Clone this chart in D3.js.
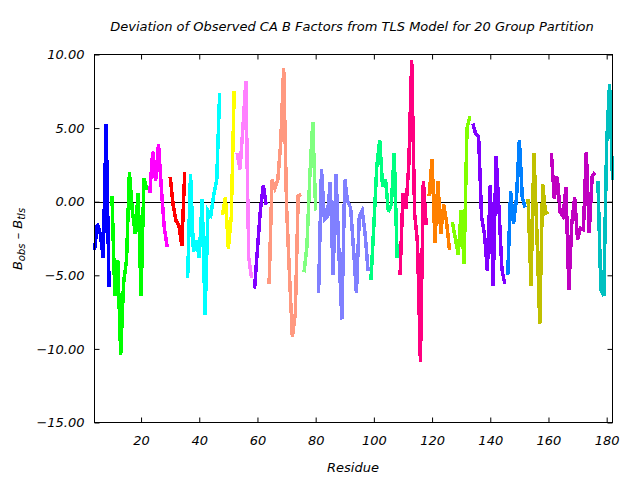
<!DOCTYPE html>
<html lang="en">

<head>
    <meta charset="UTF-8">
    <title>TLS deviation</title>
    <script src="https://cdn.jsdelivr.net/npm/d3@7"></script>
</head>

<body>
    <script>
        // first residue of each TLS group, its colour, and B_obs - B_tls per residue
        const groupStarts = [4, 10, 23, 30, 36, 48, 53, 59, 64, 76, 81, 99, 109, 119, 127, 134, 146, 153, 161, 177];
        const groupColors = ['#0000ff', '#00ff00', '#ff00ff', '#ff0000', '#00ffff', '#ffff00', '#ff80ff', '#8000ff',
            '#ff9980', '#80ff80', '#8080ff', '#00ff80', '#ff0080', '#ff8000', '#80ff00', '#8000ff',
            '#0080ff', '#c0c000', '#c000c0', '#00c0c0'];
        const deviations = [
            [-3.3, -1.5, -2.2, -3.8, 5.3, -5.8],
            [0.4, -6.4, -4.0, -10.4, -5.5, -4.0, 2.0, -0.6, -2.2, 0.6, -6.4, 1.6, 0.8],
            [0.6, 3.4, 1.4, 3.9, 0.8, -1.8, -3.1],
            [1.7, -0.2, -1.3, -1.6, -3.0, 2.0],
            [-5.2, 1.9, -3.4, -2.6, -3.8, 0.2, -7.7, -0.6, -0.9, 0.5, 1.5, 7.4],
            [-0.9, 0.3, -3.2, -1.0, 7.5],
            [3.3, 2.2, 5.0, 8.2, -3.8, -5.2],
            [-5.9, -3.2, -0.6, 1.1, -0.2],
            [-5.6, 1.5, 0.9, 1.5, 4.0, 9.1, -0.3, -5.0, -9.2, -7.6, 0.4, 0.5],
            [-4.8, -3.0, 1.8, 5.4, -0.6],
            [-6.2, 2.2, -1.2, -1.0, 1.3, -5.0, 1.9, -3.5, -8.0, 1.5, 0.0, -0.4, -3.2, -6.2, -1.0, -0.6, -2.2, -4.7],
            [-5.3, -1.6, 2.4, 4.2, 1.0, 1.5, -0.7, -0.2, 3.3, -3.8],
            [-5.0, 0.6, -0.5, 2.5, 9.6, -0.8, -2.8, -10.9, 1.4, -1.6],
            [0.4, 2.9, -2.8, 1.4, -2.2, -0.2, -1.4, -3.3],
            [-1.4, -2.5, -3.6, -0.6, -4.2, 5.0, 5.8],
            [5.3, 4.6, 4.4, -1.0, -2.2, -4.7, 1.1, -5.7, 3.1, -0.5, -4.6, -5.6],
            [-5.0, 0.7, -1.5, 0.2, 4.2, 0.3, -0.4],
            [0.2, -5.7, 3.3, -2.0, -8.3, 1.2, -0.8, -0.7],
            [3.3, 0.2, 1.7, -0.7, -1.0, 1.0, -6.0, -1.5, 0.3, -2.6, -1.8, -1.9, 3.4, -2.1, 1.7, 2.0],
            [1.4, -6.0, -6.4, 4.0, 8.0, 1.5]
        ];
        const xTicks = [20, 40, 60, 80, 100, 120, 140, 160, 180];
        const yTicks = [-15, -10, -5, 0, 5, 10];

        const width = 640, height = 480;
        const plotLeft = 94.5, plotRight = 612.5, plotTop = 54.5, plotBottom = 422.5;
        const font = '"DejaVu Sans", sans-serif';

        const svg = d3.select("body").append("svg").attr("width", width).attr("height", height)
            .style("background", "white").style("font-family", font).style("font-style", "italic");

        const x = d3.scaleLinear().domain([4, 182]).range([plotLeft, plotRight]);
        const y = d3.scaleLinear().domain([-15, 10]).range([plotBottom, plotTop]);

        // axes, ticks pointing inward, mirrored on top / right
        const styleAxis = (g) => {
            g.select(".domain").remove();
            g.selectAll("line").attr("stroke", "black");
            g.selectAll("text").attr("fill", "black").style("font-size", "13px").style("font-family", font);
        };
        svg.append("g").attr("transform", `translate(0,${plotBottom})`)
            .call(d3.axisBottom(x).tickValues(xTicks).tickSize(-5).tickPadding(13))
            .call(styleAxis);
        svg.append("g").attr("transform", `translate(0,${plotTop})`)
            .call(d3.axisTop(x).tickValues(xTicks).tickSize(-5).tickFormat(""))
            .call(styleAxis);
        svg.append("g").attr("transform", `translate(${plotLeft},0)`)
            .call(d3.axisLeft(y).tickValues(yTicks).tickSize(-5).tickPadding(10).tickFormat(d3.format(".2f")))
            .call(styleAxis);
        svg.append("g").attr("transform", `translate(${plotRight},0)`)
            .call(d3.axisRight(y).tickValues(yTicks).tickSize(-5).tickFormat(""))
            .call(styleAxis);

        svg.append("line")
            .attr("x1", plotLeft).attr("x2", plotRight)
            .attr("y1", Math.round(y(0)) + 0.5).attr("y2", Math.round(y(0)) + 0.5)
            .attr("stroke", "black");

        const line = d3.line()
            .x(d => x(d.res))
            .y(d => y(d.val));

        svg.append("g")
            .selectAll("path")
            .data(deviations.map((vals, i) => ({
                color: groupColors[i],
                pts: vals.map((v, j) => ({ res: groupStarts[i] + j, val: v }))
            })))
            .join("path")
            .attr("d", d => line(d.pts))
            .attr("fill", "none")
            .attr("stroke", d => d.color)
            .attr("stroke-width", 3.5)
            .attr("shape-rendering", "crispEdges");

        svg.append("rect")
            .attr("x", plotLeft).attr("y", plotTop)
            .attr("width", plotRight - plotLeft).attr("height", plotBottom - plotTop)
            .attr("fill", "none").attr("stroke", "black");

        svg.append("text")
            .attr("x", 352).attr("y", 31)
            .attr("text-anchor", "middle")
            .style("font-size", "13px")
            .text("Deviation of Observed CA B Factors from TLS Model for 20 Group Partition");

        svg.append("text")
            .attr("x", 353).attr("y", 472)
            .attr("text-anchor", "middle")
            .style("font-size", "13px")
            .text("Residue");

        const ylab = svg.append("text")
            .attr("transform", "translate(22,239) rotate(-90)")
            .attr("text-anchor", "middle")
            .style("font-size", "13px");
        ylab.append("tspan").text("B");
        ylab.append("tspan").attr("dy", 3).style("font-size", "10px").text("obs");
        ylab.append("tspan").attr("dy", -3).text(" \u2013 B");
        ylab.append("tspan").attr("dy", 3).style("font-size", "10px").text("tls");
    </script>
    <style>
        * {
            margin: 0;
            padding: 0;
        }
    </style>
</body>

</html>
